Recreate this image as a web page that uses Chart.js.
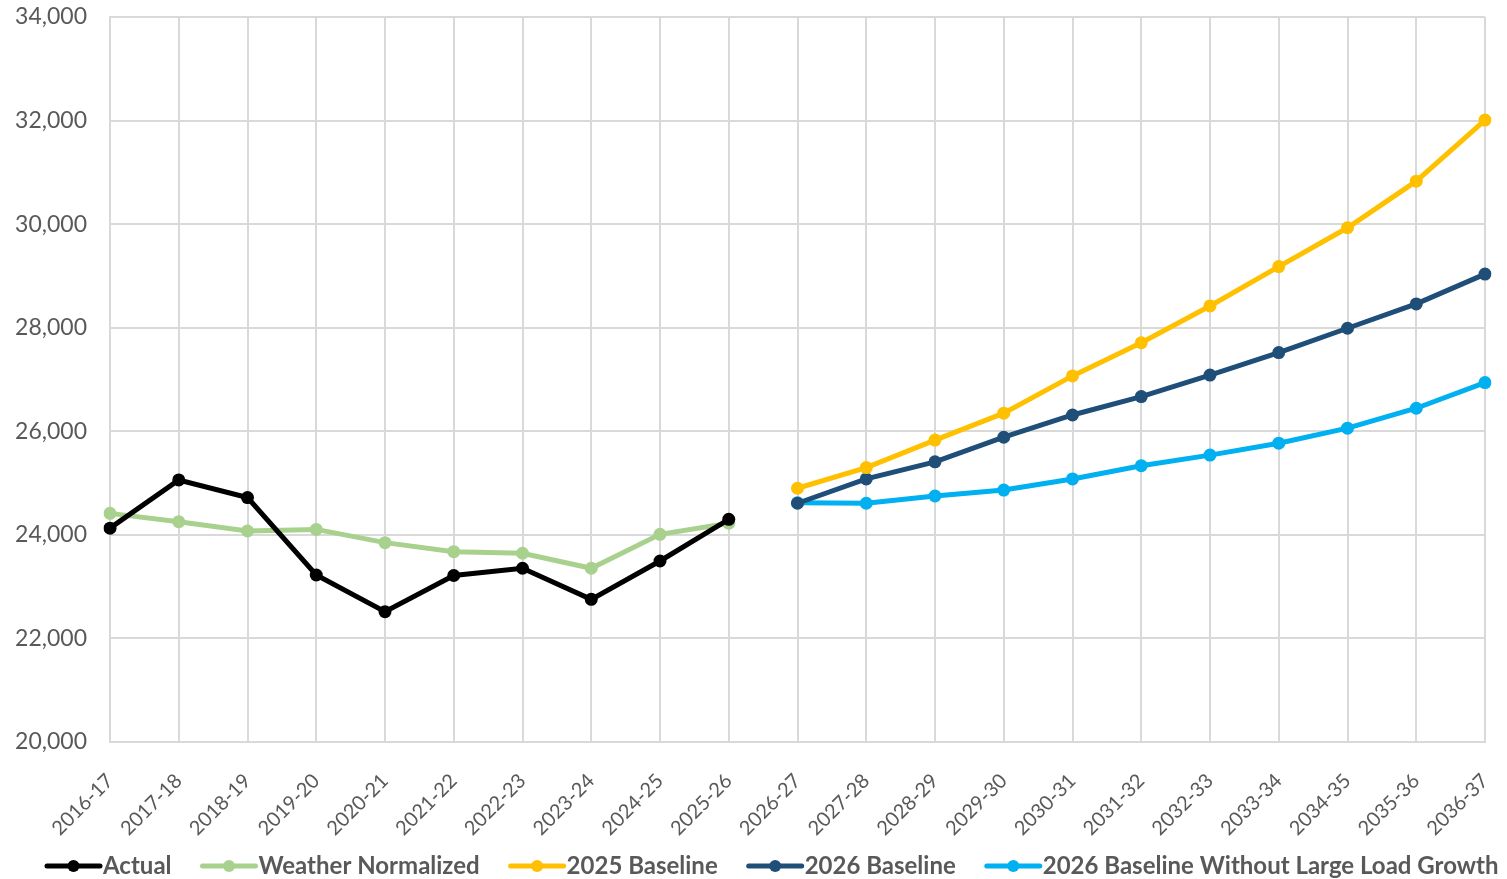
<!DOCTYPE html>
<html>
<head>
<meta charset="utf-8">
<script src="https://cdn.jsdelivr.net/npm/chart.js@4"></script>
<style>
  html, body { margin: 0; padding: 0; background: #fff; }
  #wrap { width: 1507px; height: 879px; }
</style>
</head>
<body>
<div id="wrap"><canvas id="grafico" width="1507" height="879"></canvas></div>
<script>
// anos (categorias do eixo x)
const anos = ['2016-17','2017-18','2018-19','2019-20','2020-21','2021-22','2022-23','2023-24','2024-25','2025-26',
  '2026-27','2027-28','2028-29','2029-30','2030-31','2031-32','2032-33','2033-34','2034-35','2035-36','2036-37'];

// historico
const actual = [24130, 25060, 24720, 23225, 22516, 23215, 23355, 22755, 23495, 24300,
  null, null, null, null, null, null, null, null, null, null, null];
const weatherNormalized = [24415, 24255, 24075, 24105, 23850, 23675, 23645, 23355, 24010, 24225,
  null, null, null, null, null, null, null, null, null, null, null];

// previsoes
const baseline2025 = [null, null, null, null, null, null, null, null, null, null,
  24900, 25300, 25830, 26350, 27070, 27710, 28420, 29180, 29930, 30830, 32010];
const baseline2026 = [null, null, null, null, null, null, null, null, null, null,
  24610, 25080, 25410, 25885, 26315, 26670, 27085, 27520, 27990, 28460, 29035];
const baseline2026SemCarga = [null, null, null, null, null, null, null, null, null, null,
  24620, 24610, 24750, 24865, 25080, 25335, 25540, 25770, 26060, 26445, 26940];

const yMin = 20000, yMax = 34000, yStep = 2000;

const cores = ['#000000', '#A9D18E', '#FFC000', '#1F4E79', '#00B0F0'];
const nomes = ['Actual', 'Weather Normalized', '2025 Baseline', '2026 Baseline', '2026 Baseline Without Large Load Growth'];
const series = [actual, weatherNormalized, baseline2025, baseline2026, baseline2026SemCarga];

// legenda desenhada a mao (linha + ponto + texto), numa linha so embaixo
const legendaLinhas = {
  id: 'legendaLinhas',
  afterDraw(chart) {
    const c = chart.ctx;
    const yMeio = 866;
    const tamLinha = 53, espTexto = 3, espItem = 31;
    let x = 47;
    c.save();
    c.font = "bold 24px 'Lato', sans-serif";
    c.textBaseline = 'middle';
    c.textAlign = 'left';
    chart.data.datasets.forEach(ds => {
      c.strokeStyle = ds.borderColor;
      c.lineWidth = 5;
      c.lineCap = 'round';
      c.beginPath(); c.moveTo(x, yMeio); c.lineTo(x + tamLinha, yMeio); c.stroke();
      c.fillStyle = ds.borderColor;
      c.beginPath(); c.arc(x + tamLinha / 2, yMeio, 6, 0, Math.PI * 2); c.fill();
      x += tamLinha + espTexto;
      c.fillStyle = '#595959';
      c.fillText(ds.label, x, yMeio);
      x += c.measureText(ds.label).width + espItem;
    });
    c.restore();
  }
};

const ctx = document.getElementById('grafico').getContext('2d');
new Chart(ctx, {
  type: 'line',
  data: {
    labels: anos,
    datasets: series.map((dados, i) => ({
      label: nomes[i],
      data: dados,
      borderColor: cores[i],
      backgroundColor: cores[i],
      borderWidth: 5,
      pointRadius: 6.5,
      pointHoverRadius: 6.5,
      pointBorderWidth: 0,
      tension: 0,
      spanGaps: false
    }))
  },
  plugins: [legendaLinhas],
  options: {
    responsive: false,
    animation: false,
    layout: { padding: { left: 15, right: 22, top: 17, bottom: 32 } },
    plugins: {
      tooltip: { enabled: false },
      legend: { display: false }
    },
    scales: {
      x: {
        offset: false,
        grid: { color: '#D9D9D9', lineWidth: 2, drawTicks: false },
        border: { color: '#D9D9D9', width: 2 },
        afterFit: s => { s.height = 105; s.paddingLeft = 0; s.paddingRight = 0; },
        ticks: {
          autoSkip: false,
          maxRotation: 45,
          minRotation: 45,
          padding: 27,
          color: '#595959',
          font: { family: "'Lato', sans-serif", size: 20 }
        }
      },
      y: {
        min: yMin,
        max: yMax,
        grid: { color: '#D9D9D9', lineWidth: 2, drawTicks: false },
        border: { color: '#D9D9D9', width: 2 },
        afterFit: s => { s.width = 95; s.paddingTop = 0; s.paddingBottom = 0; },
        ticks: {
          stepSize: yStep,
          padding: 23,
          color: '#595959',
          font: { family: "'Lato', sans-serif", size: 23 },
          callback: v => v.toLocaleString('en-US')
        }
      }
    }
  }
});
</script>
</body>
</html>
